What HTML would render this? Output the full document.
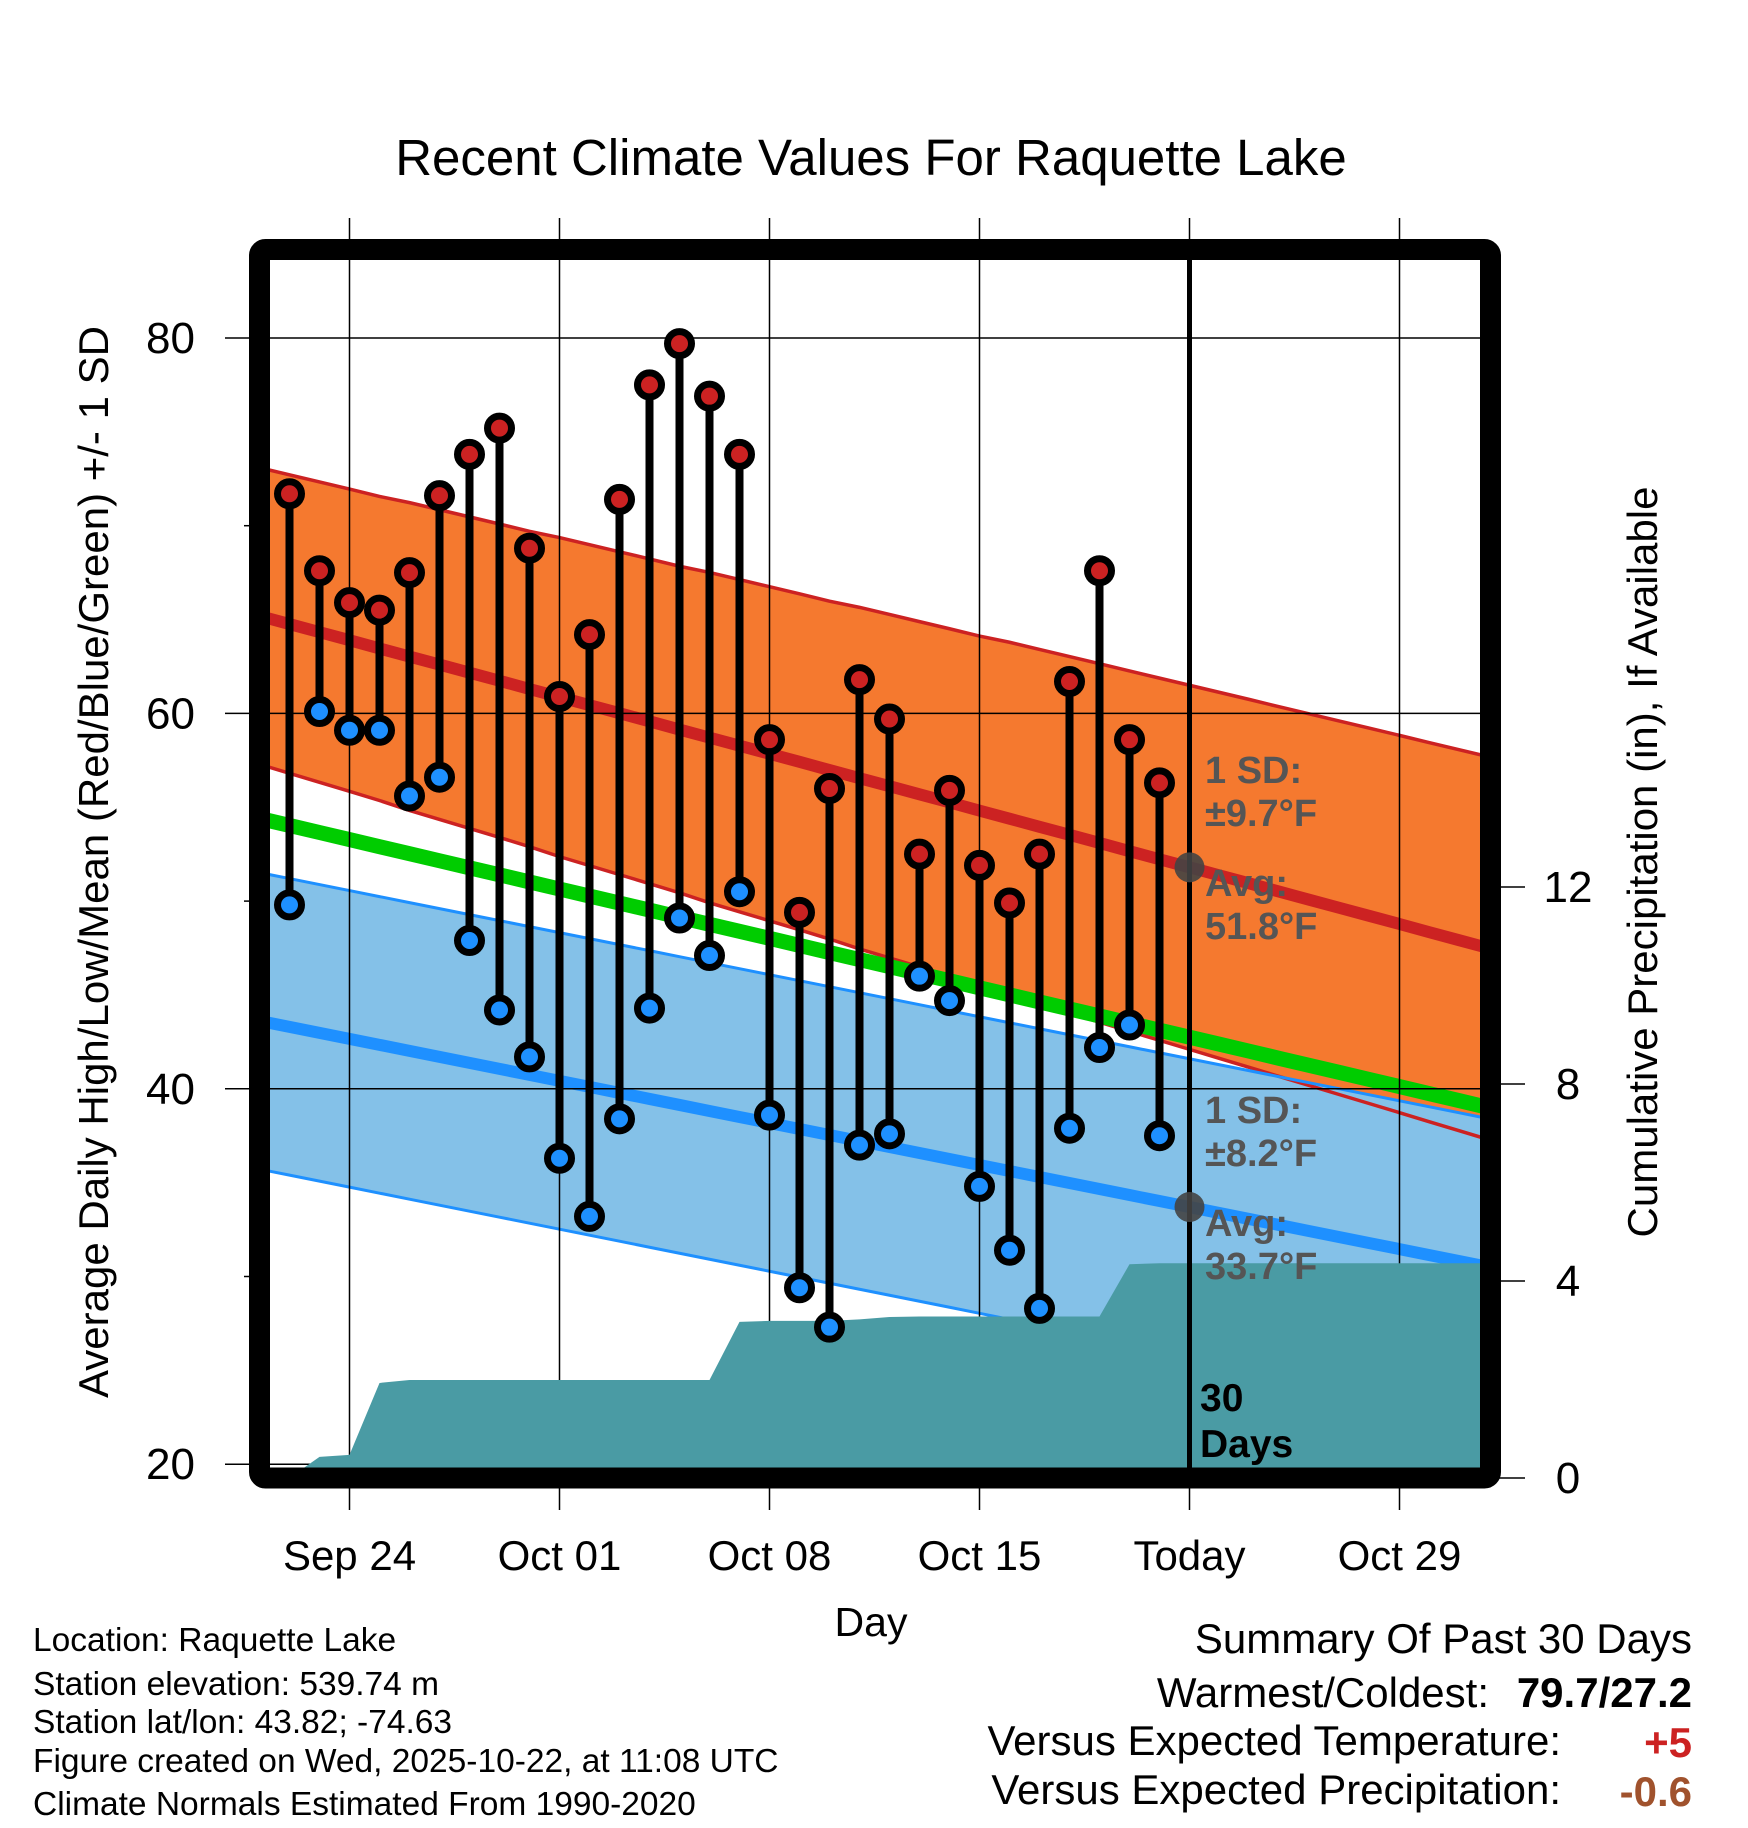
<!DOCTYPE html>
<html><head><meta charset="utf-8">
<style>
html,body{margin:0;padding:0;background:#fff;}
svg{display:block;font-family:"Liberation Sans",Arial,sans-serif;}
</style></head>
<body>
<svg id="chart" width="1748" height="1828" viewBox="0 0 1748 1828" xmlns="http://www.w3.org/2000/svg">
<defs><clipPath id="plotclip"><rect x="270" y="260" width="1210" height="1208"/></clipPath></defs>
<rect width="1748" height="1828" fill="#fff"/>
<text x="871" y="175" font-size="51" text-anchor="middle">Recent Climate Values For Raquette Lake</text>
<g id="bands" clip-path="url(#plotclip)"></g>
<g id="grid"></g>
<g id="precip" clip-path="url(#plotclip)"></g>
<g id="marks"></g>
<rect x="259.5" y="249.5" width="1231" height="1228.5" rx="6" fill="none" stroke="#000" stroke-width="21"/>
<g id="labels"></g>
<g font-weight="bold" font-size="38" fill="#555">
<text x="1205" y="783">1 SD:</text>
<text x="1205" y="826">±9.7°F</text>
<text x="1205" y="896">Avg:</text>
<text x="1205" y="939">51.8°F</text>
<text x="1205" y="1123">1 SD:</text>
<text x="1205" y="1166">±8.2°F</text>
<text x="1205" y="1236">Avg:</text>
<text x="1205" y="1279">33.7°F</text>
</g>
<g font-weight="bold" font-size="39" fill="#000">
<text x="1200" y="1411">30</text>
<text x="1200" y="1457">Days</text>
</g>
<text x="871" y="1636" font-size="41" text-anchor="middle">Day</text>
<text transform="translate(108,862) rotate(-90)" font-size="42" text-anchor="middle">Average Daily High/Low/Mean (Red/Blue/Green) +/- 1 SD</text>
<text transform="translate(1657,862) rotate(-90)" font-size="42" text-anchor="middle">Cumulative Precipitation (in), If Available</text>
<g font-size="33.5">
<text x="33" y="1651">Location: Raquette Lake</text>
<text x="33" y="1695">Station elevation: 539.74 m</text>
<text x="33" y="1733">Station lat/lon: 43.82; -74.63</text>
<text x="33" y="1772">Figure created on Wed, 2025-10-22, at 11:08 UTC</text>
<text x="33" y="1815">Climate Normals Estimated From 1990-2020</text>
</g>
<g font-size="42">
<text x="1692" y="1653" text-anchor="end">Summary Of Past 30 Days</text>
<text x="1489" y="1707" text-anchor="end">Warmest/Coldest:</text>
<text x="1692" y="1707" text-anchor="end" font-weight="bold">79.7/27.2</text>
<text x="1561" y="1755" text-anchor="end">Versus Expected Temperature:</text>
<text x="1692" y="1757" text-anchor="end" font-weight="bold" fill="#cc2222">+5</text>
<text x="1561" y="1804" text-anchor="end">Versus Expected Precipitation:</text>
<text x="1692" y="1806" text-anchor="end" font-weight="bold" fill="#a0522d">-0.6</text>
</g>
</svg>
<script>
// Observed data: Sep 22 .. Oct 21 (day index -2 .. 27 relative to Sep 24)
const obsStartDay = -2;
const highs = [71.7,67.6,65.9,65.5,67.5,71.6,73.8,75.2,68.8,60.9,64.2,71.4,77.5,79.7,76.9,73.8,58.6,49.4,56.0,61.8,59.7,52.5,55.9,51.9,49.9,52.5,61.7,67.6,58.6,56.3];
const lows = [49.8,60.1,59.1,59.1,55.6,56.6,47.9,44.2,41.7,36.3,33.2,38.4,44.3,49.1,47.1,50.5,38.6,29.4,27.3,37.0,37.6,46.0,44.7,34.8,31.4,28.3,37.9,42.2,43.4,37.5];
const precipCum = [0,0.43,0.47,1.93,1.99,1.99,1.99,1.99,1.99,1.99,1.99,1.99,1.99,1.99,1.99,3.17,3.19,3.19,3.19,3.22,3.27,3.28,3.28,3.28,3.28,3.28,3.28,3.28,4.34,4.36];
// Normals: Sep 21 .. Nov 1 (day index -3 .. 38)
const normStartDay = -3;
const normHigh = [65.19,64.76,64.33,63.90,63.46,63.03,62.60,62.17,61.74,61.30,60.87,60.44,60.01,59.58,59.14,58.71,58.28,57.85,57.42,56.98,56.55,56.12,55.69,55.26,54.82,54.39,53.96,53.53,53.10,52.66,52.23,51.80,51.37,50.94,50.50,50.07,49.64,49.21,48.78,48.34,47.91,47.48];
const normLow = [43.62,43.30,42.98,42.66,42.34,42.02,41.70,41.38,41.06,40.74,40.42,40.10,39.78,39.46,39.14,38.82,38.50,38.18,37.86,37.54,37.22,36.90,36.58,36.26,35.94,35.62,35.30,34.98,34.66,34.34,34.02,33.70,33.38,33.06,32.74,32.42,32.10,31.78,31.46,31.14,30.82,30.50];
const sdHigh = [7.9,7.95,8.0,8.05,8.1,8.2,8.25,8.3,8.35,8.4,8.5,8.55,8.6,8.65,8.7,8.8,8.85,8.9,8.95,9.0,9.1,9.15,9.2,9.25,9.3,9.4,9.45,9.5,9.55,9.6,9.65,9.7,9.75,9.8,9.85,9.9,9.95,10.0,10.05,10.1,10.15,10.2];
const sdLow = [7.9,7.9,7.9,7.9,7.9,7.9,7.9,7.9,7.9,7.9,7.9,7.9,7.9,7.9,7.9,7.9,7.9,7.9,7.9,7.9,7.9,7.9,7.9,7.9,7.9,7.9,7.9,7.9,7.9,7.9,7.9,7.9,7.9,7.9,7.9,7.9,7.9,7.9,7.9,7.9,7.9,7.9];
const xTickLabels = ["Sep 24","Oct 01","Oct 08","Oct 15","Today","Oct 29"];
const xTickDays = [0,7,14,21,28,35];
const yTicks = [80,60,40,20];
const yMinor = [70,50,30];
const y2Ticks = [0,4,8,12];
const todayDay = [28];

const NS="http://www.w3.org/2000/svg";
const X = d => 349.5 + d*30;
const Y = v => 338 + (80 - v)*18.77;
const Y2 = p => 1478 - p*49.25;
function mk(tag, attrs, parent){const e=document.createElementNS(NS,tag);for(const k in attrs)e.setAttribute(k,attrs[k]);parent.appendChild(e);return e;}
const bands=document.getElementById('bands'),grid=document.getElementById('grid'),precip=document.getElementById('precip'),marks=document.getElementById('marks'),labels=document.getElementById('labels');

function bandPath(arr, sd){
  let up=arr.map((v,i)=>`${X(normStartDay+i)},${Y(v+sd[i])}`);
  let dn=arr.map((v,i)=>`${X(normStartDay+i)},${Y(v-sd[i])}`).reverse();
  return 'M'+up.join('L')+'L'+dn.join('L')+'Z';
}
function linePath(arr, sd, sign){return 'M'+arr.map((v,i)=>`${X(normStartDay+i)},${Y(v+(sd?sign*sd[i]:0))}`).join('L');}

let e;
e=mk('path',{d:bandPath(normHigh,sdHigh),fill:'#f5792f'},bands);


e=mk('path',{d:bandPath(normLow,sdLow),fill:'#84c1e8'},bands);


[1,-1].forEach(s=>{e=mk('path',{d:linePath(normHigh,sdHigh,s),fill:'none',stroke:'#cc2222','stroke-width':3.5},bands);

});
[1,-1].forEach(s=>{e=mk('path',{d:linePath(normLow,sdLow,s),fill:'none',stroke:'#1e90ff','stroke-width':3},bands);

});
const normMean = normHigh.map((h,i)=>(h+normLow[i])/2);
e=mk('path',{d:linePath(normMean,null,0),fill:'none',stroke:'#00cc00','stroke-width':15},bands);


e=mk('path',{d:linePath(normHigh,null,0),fill:'none',stroke:'#cc2222','stroke-width':12},bands);


e=mk('path',{d:linePath(normLow,null,0),fill:'none',stroke:'#1e90ff','stroke-width':12},bands);



xTickDays.forEach((d,i)=>{
  e=mk('line',{x1:X(d),x2:X(d),y1:218,y2:1510,stroke:'#000','stroke-width':1.5},grid);
  
  
  e=mk('text',{x:X(d),y:1570,'font-size':42,'text-anchor':'middle'},labels);
  e.textContent=xTickLabels[i];
  
  
});
yTicks.forEach(v=>{
  e=mk('line',{x1:225,x2:1480,y1:Y(v),y2:Y(v),stroke:'#000','stroke-width':1.5},grid);
  
  
  e=mk('text',{x:195,y:Y(v)+15,'font-size':44,'text-anchor':'end'},labels);
  e.textContent=v;
  
  
});
yMinor.forEach(v=>{
  e=mk('line',{x1:244,x2:260,y1:Y(v),y2:Y(v),stroke:'#000','stroke-width':1.5},grid);
  
  
});
y2Ticks.forEach(p=>{
  e=mk('line',{x1:1490,x2:1525,y1:Y2(p),y2:Y2(p),stroke:'#000','stroke-width':1.5},grid);
  
  
  e=mk('text',{x:1568,y:Y2(p)+15,'font-size':44,'text-anchor':'middle'},labels);
  e.textContent=p;
  
  
});

let pts=precipCum.map((p,i)=>`${X(obsStartDay+i)},${Y2(p)}`);
const lastP=precipCum[precipCum.length-1];
pts.push(`1490,${Y2(lastP)}`);
e=mk('path',{d:`M${X(obsStartDay)},1478L`+pts.join('L')+`L1490,1478Z`,fill:'#4a9ba4'},precip);



e=mk('line',{x1:X(todayDay[0]),x2:X(todayDay[0]),y1:260,y2:1468,stroke:'#000','stroke-width':5},marks);


const ti=todayDay[0]-normStartDay;
e=mk('circle',{cx:X(todayDay[0]),cy:Y(normHigh[ti]),r:15,fill:'#444','fill-opacity':0.9},marks);


e=mk('circle',{cx:X(todayDay[0]),cy:Y(normLow[ti]),r:15,fill:'#444','fill-opacity':0.9},marks);



highs.forEach((h,i)=>{
  const x=X(obsStartDay+i);
  e=mk('line',{x1:x,x2:x,y1:Y(h),y2:Y(lows[i]),stroke:'#000','stroke-width':8},marks);
  
  
});
highs.forEach((h,i)=>{
  const x=X(obsStartDay+i);
  e=mk('circle',{cx:x,cy:Y(h),r:12,fill:'#cc2222',stroke:'#000','stroke-width':7},marks);
  
  
  e=mk('circle',{cx:x,cy:Y(lows[i]),r:12,fill:'#1e90ff',stroke:'#000','stroke-width':7},marks);
  
  
});
</script>
</body></html>
